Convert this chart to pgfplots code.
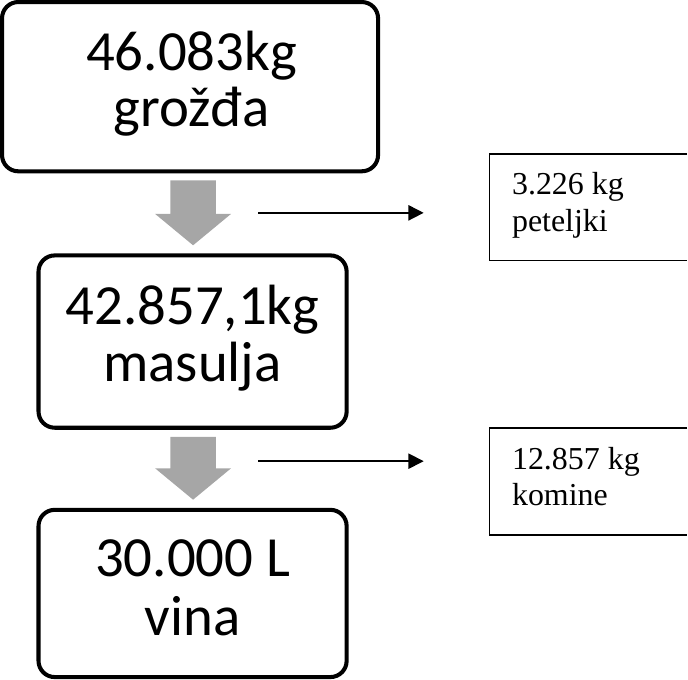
\documentclass[border=0pt]{standalone}
\usepackage{pgfplots}
\pgfplotsset{compat=1.18}
\usetikzlibrary{arrows.meta}
\usepackage{fontspec}
\setmainfont{Carlito}
\newfontfamily\tnr{Liberation Serif}
\definecolor{arrowgray}{HTML}{A6A6A6}
\begin{document}
\begin{tikzpicture}
\begin{axis}[
  width=688pt, height=681pt, scale only axis,
  xmin=0, xmax=688, ymin=0, ymax=681, y dir=reverse,
  hide axis, clip=false,
]
% main boxes
\draw[line width=4pt, rounded corners=16pt] (axis cs:12,12) rectangle (axis cs:383,179);
\draw[line width=4pt, rounded corners=16pt] (axis cs:48,262) rectangle (axis cs:352,432);
\draw[line width=4pt, rounded corners=16pt] (axis cs:48,513) rectangle (axis cs:352,678);
% gray block arrows
\addplot[draw=none, fill=arrowgray] coordinates {(178,188) (223,188) (223,221) (238,221) (200.5,252) (163,221) (178,221)} -- cycle;
\addplot[draw=none, fill=arrowgray] coordinates {(178,441) (223,441) (223,472) (238,472) (200.5,503) (163,472) (178,472)} -- cycle;
% thin arrows
\addplot[line width=1.6pt, -{Triangle[length=15pt,width=15pt]}] coordinates {(265,220) (428,220)};
\addplot[line width=1.6pt, -{Triangle[length=15pt,width=15pt]}] coordinates {(265,465) (428,465)};
% right boxes (cut at right edge)
\addplot[line width=1.6pt] coordinates {(688,162) (493,162) (493,267) (688,267)};
\addplot[line width=1.6pt] coordinates {(688,432) (493,432) (493,538) (688,538)};
% big texts
\node[anchor=base, font=\fontsize{56}{56}\selectfont] at (axis cs:199,80) {46.083kg};
\node[anchor=base, font=\fontsize{56}{56}\selectfont] at (axis cs:199,135) {grožđa};
\node[anchor=base, font=\fontsize{56}{56}\selectfont] at (axis cs:200,330) {42.857,1kg};
\node[anchor=base, font=\fontsize{56}{56}\selectfont] at (axis cs:200,386) {masulja};
\node[anchor=base, font=\fontsize{56}{56}\selectfont] at (axis cs:200,579) {30.000 L};
\node[anchor=base, font=\fontsize{56}{56}\selectfont] at (axis cs:200,637) {vina};
% small texts
\node[anchor=base west, inner sep=0pt, font=\tnr\fontsize{31.5}{36}\selectfont] at (axis cs:515,202) {3.226 kg};
\node[anchor=base west, inner sep=0pt, font=\tnr\fontsize{31.5}{36}\selectfont] at (axis cs:515,238) {peteljki};
\node[anchor=base west, inner sep=0pt, font=\tnr\fontsize{31.5}{36}\selectfont] at (axis cs:515,473) {12.857 kg};
\node[anchor=base west, inner sep=0pt, font=\tnr\fontsize{31.5}{36}\selectfont] at (axis cs:515,509) {komine};
\end{axis}
\end{tikzpicture}
\end{document}
